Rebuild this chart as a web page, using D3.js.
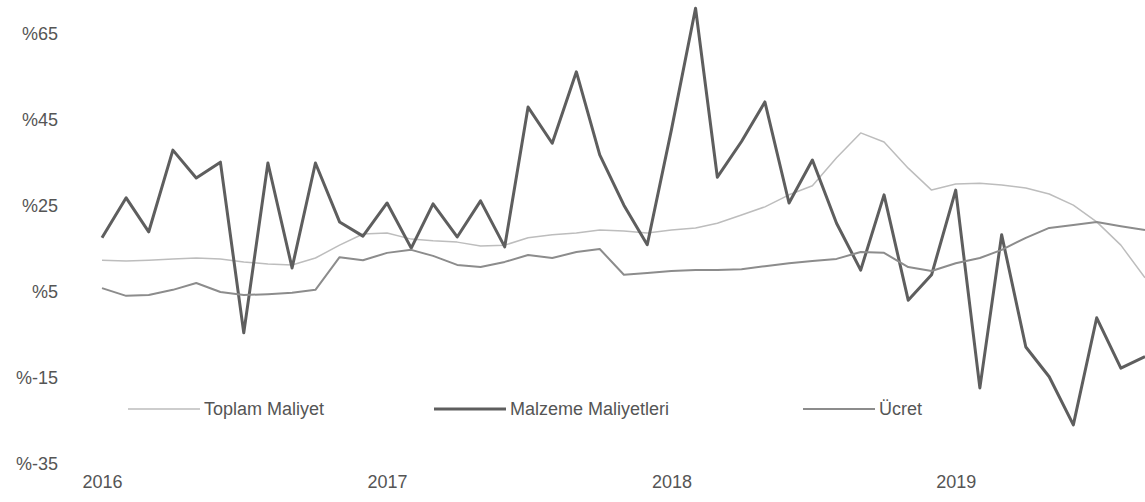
<!DOCTYPE html>
<meta charset="utf-8">
<style>
    body {
        margin: 0;
        background-color: #ffffff;
    }

    .axis text {
        font: 18px "Liberation Sans", sans-serif;
        fill: #555;
    }

    .line {
        fill: none;
        stroke-linejoin: round;
    }

    .legend text {
        font: 18px "Liberation Sans", sans-serif;
        fill: #555;
    }
</style>

<body>
    <svg width="1145" height="502"></svg>
</body>
<script src="https://d3js.org/d3.v7.min.js"></script>
<script>
    // monthly, Jan 2016 - Sep 2019
    var startMonth = "2016-01";
    var monthCount = 45;

    var toplamMaliyet = [12.4, 12.2, 12.4, 12.7, 12.9, 12.7, 12.0, 11.5, 11.3, 12.9,
        15.9, 18.5, 18.7, 17.3, 16.9, 16.6, 15.7, 15.9, 17.6, 18.3,
        18.7, 19.4, 19.2, 18.7, 19.4, 19.9, 21.0, 22.9, 24.8, 27.6,
        29.7, 36.2, 42.0, 39.9, 33.8, 28.7, 30.1, 30.3, 29.9, 29.2,
        27.8, 25.2, 21.3, 15.9, 8.3];

    var malzemeMaliyetleri = [17.6, 26.9, 19.0, 38.0, 31.5, 35.2, -4.5, 35.0, 10.6, 35.0,
        21.3, 18.0, 25.7, 15.2, 25.5, 17.8, 26.2, 15.5, 48.0, 39.6,
        56.2, 36.9, 25.2, 16.0, 42.7, 71.0, 31.7, 40.0, 49.2, 25.7,
        35.7, 21.0, 10.1, 27.6, 3.1, 9.0, 28.7, -17.3, 18.3, -7.8,
        -14.7, -25.9, -1.0, -12.7, -10.0];

    var ucret = [5.9, 4.1, 4.3, 5.5, 7.1, 5.0, 4.3, 4.5, 4.8, 5.5,
        13.1, 12.4, 14.1, 14.8, 13.4, 11.3, 10.8, 12.0, 13.6, 12.9,
        14.3, 15.0, 9.0, 9.4, 9.9, 10.1, 10.1, 10.3, 11.0, 11.7,
        12.2, 12.7, 14.3, 14.1, 10.8, 9.9, 11.7, 12.9, 14.8, 17.6,
        19.9, 20.6, 21.3, 20.3, 19.4];

    var seriesNames = ["Toplam Maliyet", "Malzeme Maliyetleri", "Ücret"];
    var seriesColors = ["#bdbdbd", "#5e5e5e", "#8c8c8c"];
    var seriesWidths = [1.5, 3, 2];

    var yTicks = [65, 45, 25, 5, -15, -35];
    var xTickYears = [2016, 2017, 2018, 2019];

    var svg = d3.select("svg"),
        width = +svg.attr("width"),
        height = +svg.attr("height");

    var parseMonth = d3.timeParse("%Y-%m");
    var months = d3.timeMonth.range(parseMonth(startMonth),
        d3.timeMonth.offset(parseMonth(startMonth), monthCount));

    var series = [toplamMaliyet, malzemeMaliyetleri, ucret].map(function(vals, i) {
        return {
            name: seriesNames[i],
            color: seriesColors[i],
            width: seriesWidths[i],
            values: vals.map(function(v, j) {
                return { month: months[j], value: v };
            })
        };
    });

    var x = d3.scaleTime()
        .domain([months[0], months[months.length - 1]])
        .range([102, width]);

    var y = d3.scaleLinear()
        .domain([-35, 65])
        .range([464, 34]);

    var line = d3.line()
        .x(function(d) { return x(d.month); })
        .y(function(d) { return y(d.value); });

    // y axis: labels only
    svg.append("g")
        .attr("class", "axis axis--y")
        .attr("transform", "translate(58,0)")
        .call(d3.axisLeft(y).tickValues(yTicks).tickSize(0).tickPadding(0)
            .tickFormat(function(d) { return "%" + d; }))
        .call(function(g) { g.select(".domain").remove(); });

    // x axis: year labels only
    svg.append("g")
        .attr("class", "axis axis--x")
        .attr("transform", "translate(0,475)")
        .call(d3.axisBottom(x)
            .tickValues(xTickYears.map(function(yr) { return new Date(yr, 0, 1); }))
            .tickSize(0).tickPadding(0)
            .tickFormat(d3.timeFormat("%Y")))
        .call(function(g) { g.select(".domain").remove(); });

    svg.selectAll(".line")
        .data(series)
        .enter().append("path")
        .attr("class", "line")
        .attr("stroke", function(d) { return d.color; })
        .attr("stroke-width", function(d) { return d.width; })
        .attr("d", function(d) { return line(d.values); });

    // legend
    var legendX = [128, 434, 803];
    var legend = svg.append("g")
        .attr("class", "legend")
        .attr("transform", "translate(0,409)");

    var item = legend.selectAll("g")
        .data(series)
        .enter().append("g")
        .attr("transform", function(d, i) { return "translate(" + legendX[i] + ",0)"; });

    item.append("line")
        .attr("x1", 0)
        .attr("x2", 72)
        .attr("stroke", function(d) { return d.color; })
        .attr("stroke-width", function(d) { return d.width; });

    item.append("text")
        .attr("x", 76)
        .attr("dy", "0.35em")
        .text(function(d) { return d.name; });
</script>
